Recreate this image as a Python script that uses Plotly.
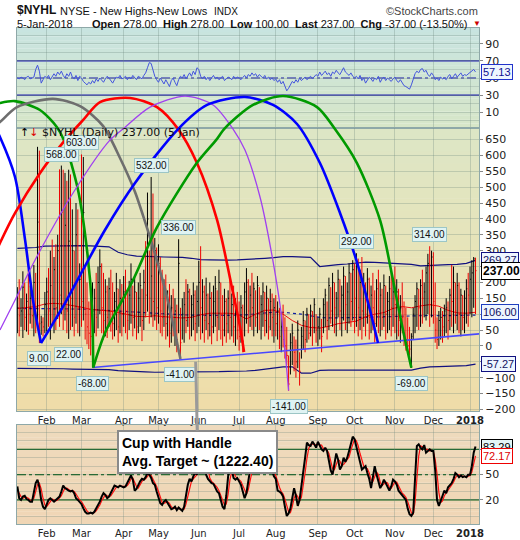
import pandas as pd
import plotly.graph_objects as go

# ---------------- data ----------------
HOLIDAYS = ["2017-01-16", "2017-02-20", "2017-04-14", "2017-05-29", "2017-07-04",
            "2017-09-04", "2017-11-23", "2017-12-25", "2018-01-01"]
trading_days = [d for d in pd.bdate_range("2017-01-09", "2018-01-05")
                if d.strftime("%Y-%m-%d") not in HOLIDAYS]

nyhl_high = (
    [185, 210, 150, 235, 200, 165, 240, 190, 175, 255, 230, 627, 615, 95, 90, 170] +
    [215, 245, 300, 335, 280, 320, 350, 556, 568, 555, 545, 520, 555, 540, 430, 300, 450, 430, 260] +
    [603, 595, 250, 200, 140, 160, 200, 180, 230, 250, 304, 260, 230, 210, 190, 215, 240, 200, 170, 230, 180, 210, 195] +
    [220, 240, 175, 205, 260, 190, 215, 170, 200, 230, 180, 240, 330, 483, 300, 532, 480, 340, 310] +
    [320, 280, 240, 210, 225, 175, 195, 160, 180, 150, 130, 336, 120, 150, 170, 210, 195, 180, 160, 200, 175, 190] +
    [268, 314, 210, 190, 215, 165, 200, 170, 190, 220, 175, 240, 200, 160, 180, 150, 175, 210, 165, 190, 150, 170] +
    [140, 160, 130, 200, 245, 210, 190, 230, 200, 175, 220, 185, 160, 200, 170, 190, 150, 180, 165, 150] +
    [160, 140, 120, 100, 130, 90, 60, -30, 40, 70, 30, 20, 80, -20, 60, 110, 80, 120, 100, 130, 110, 150, 100] +
    [90, 120, 85, 150, 180, 140, 215, 185, 230, 200, 170, 240, 210, 190, 250, 220, 200, 260, 230, 270] +
    [260, 292, 275, 240, 280, 230, 200, 245, 215, 190, 230, 175, 210, 240, 200, 180, 225, 190, 170, 220, 240, 200] +
    [250, 210, 180, 160, 200, 140, 120, 90, 60, 40, 120, 160, 200, 180, 210, 240, 200, 250, 290, 314, 300] +
    [295, 200, 90, 110, 120, 110, 130, 150, 140, 180, 255, 250, 200, 230, 200, 180, 160, 175, 210, 230] +
    [250, 270, 280, 278]
)
nyhl_low = (
    [40, 30, 60, 25, 50, 45, 35, 70, 55, 30, 40, 60, 9, 35, 30, 40] +
    [45, 60, 20, 70, 40, 50, 85, 60, 100, 50, 80, 40, 22, 50, 60, 30, 70, 40, 30] +
    [60, 80, 20, 5, -10, -30, -68, 40, 30, 55, 100, 40, 20, 30, 25, 60, 45, 20, 30, 50, 10, 40, 30] +
    [60, 40, 20, 50, 70, 30, 55, 20, 40, 60, 15, 50, 90, 108, 70, 90, 60, 80, 50] +
    [70, 40, 30, 60, 20, 30, -5, 10, 30, 0, -20, 40, -41, 20, 10, 40, 60, 20, 30, 50, 15, 40] +
    [60, 20, 40, 10, 50, 20, 30, 5, 40, 60, 15, 50, 20, 0, 30, 10, 40, 20, 30, 10, 0, 20] +
    [-15, 10, -20, 30, 70, 40, 60, 50, 30, 60, 40, 50, 20, 60, 30, 40, 20, 50, 30, 10] +
    [30, 20, -10, -20, -5, -40, -60, -141, -90, -60, -80, -100, -70, -125, -40, -10, -20, 10, 20, 30, 0, 40, 10] +
    [0, 20, -20, 40, 60, 20, 50, 70, 60, 40, 30, 90, 50, 30, 80, 50, 40, 70, 60, 80] +
    [40, 60, 30, 50, 20, 60, 30, 70, 20, 40, 50, 10, 60, 40, 30, 50, 60, 20, 40, 50, 30, 60] +
    [40, 20, 30, 10, 40, 0, -15, -20, -30, -69, 20, 40, 60, 50, 60, 70, 90, 80, 100, 60, 90] +
    [70, 10, -10, 0, 20, 10, 30, 40, 20, 50, 60, 40, 70, 50, 40, 30, 50, 40, 70, 60] +
    [100, 90, 120, 100]
)
nyhl_close = (
    [120, 95, 110, 185, 90, 140, 100, 150, 95, 200, 120, 390, 70, 75, 60, 130] +
    [170, 110, 190, 150, 240, 120, 300, 160, 420, 130, 380, 110, 330, 150, 300, 90, 350, 120, 210] +
    [140, 420, 100, 60, 40, 30, 110, 150, 90, 200, 250, 120, 80, 170, 90, 180, 110, 70, 140, 180, 60, 150, 100] +
    [170, 110, 80, 160, 210, 90, 170, 60, 150, 190, 80, 200, 160, 400, 150, 220, 140, 300, 120] +
    [260, 110, 90, 180, 70, 140, 40, 120, 60, 110, 20, 260, 10, 100, 130, 80, 170, 90, 130, 160, 70, 140] +
    [200, 120, 170, 80, 160, 70, 150, 60, 140, 180, 90, 200, 100, 50, 140, 70, 150, 90, 130, 60, 100, 50] +
    [30, 120, 15, 170, 200, 110, 160, 120, 180, 90, 190, 100, 130, 170, 80, 150, 60, 140, 90, 120] +
    [70, 110, 30, 60, 20, 0, -30, -120, 10, 40, -20, -50, 50, -80, 30, 80, 20, 100, 40, 110, 60, 130, 50] +
    [60, 100, 30, 130, 160, 80, 190, 110, 200, 120, 150, 210, 110, 160, 220, 130, 170, 230, 140, 240] +
    [150, 250, 120, 200, 110, 190, 100, 210, 90, 160, 120, 70, 180, 110, 160, 90, 190, 100, 140, 180, 120, 170] +
    [130, 170, 80, 120, 90, 40, 20, 0, -10, 30, 100, 140, 180, 120, 190, 150, 170, 230, 260, 130, 280] +
    [140, 50, 20, 80, 90, 60, 110, 120, 80, 160, 140, 200, 110, 190, 100, 160, 90, 150, 180, 160] +
    [210, 230, 274, 237]
)

rsi = (
    [50, 49, 51, 50, 48, 51, 52, 49, 50, 51] + [60, 65, 58, 44, 48, 52] +
    [50, 53, 48, 51, 55, 52, 57, 54, 58, 53, 50, 55, 52, 57, 51, 49, 53, 47, 52] +
    [50, 46, 44, 42, 45, 43, 47, 44, 49, 46, 50, 48, 45] +
    [49, 52, 50, 47, 44, 48, 51, 50, 53, 49, 50, 52, 48, 51, 49, 53, 50, 48, 52, 50, 49, 53, 56, 62] +
    [68, 67, 60, 52] +
    [48, 45, 50, 46, 43, 48, 44, 40, 47, 50, 45, 41, 48, 52, 50, 54, 49] +
    [53, 56, 52, 58, 54, 62, 60, 52] +
    [49, 52, 48, 51, 47, 50, 53, 49, 51, 48, 50, 52, 47, 49, 51, 50, 48, 52, 49, 51, 50, 48, 51, 53, 50] +
    [54, 52, 56, 53, 55, 51, 54, 52, 50, 53, 49, 51, 48, 50] +
    [47, 49, 45, 48, 43, 46, 40, 35, 38, 42] +
    [46, 44, 48, 45, 50, 47, 49, 51, 48, 50, 52, 49, 51] +
    [54, 52, 57, 53, 55, 58, 54, 56, 52, 57, 55, 59, 56, 54, 58, 62, 57, 55, 53, 56, 52] +
    [50, 52, 49, 53, 47, 50, 44, 48, 51, 49, 46, 50, 48, 52, 45, 49, 51, 47, 50, 48, 46, 49, 51, 47, 45, 48] +
    [44, 41, 40, 38, 37, 42, 48] +
    [55, 58, 56, 60, 61, 57, 59, 54, 52, 56, 53] +
    [48, 50, 47, 51, 49, 50, 48, 52, 54, 49] +
    [52, 55, 51, 53, 56, 52, 54, 53, 55, 57, 59, 60, 57.13]
)

stoch_k = (
    [36, 22, 20, 24, 25, 21, 20, 18, 18, 30, 40, 44, 35, 20, 12, 9] +
    [15, 20, 22, 20, 18, 20, 22, 24, 30, 37, 34, 32, 31, 30, 31, 28, 22, 20, 18] +
    [15, 10, 6, 4, 4, 5, 4, 6, 10, 15, 18, 24, 28, 26, 22, 24, 28, 32, 37, 36, 35, 37, 36] +
    [35, 36, 40, 45, 49, 44, 31, 33, 38, 42, 45, 44, 47, 52, 50, 46, 40, 38, 30] +
    [22, 16, 14, 18, 20, 16, 12, 9, 10, 12, 8, 11, 9, 7, 12, 25, 38, 45, 42, 48, 52, 50] +
    [60, 80, 88, 75, 50, 45, 42, 40, 39, 35, 30, 28, 20, 12, 9, 25, 48, 60, 55, 46, 44, 46] +
    [42, 38, 30, 22, 28, 45, 56, 66, 75, 82, 85, 80, 72, 78, 84, 76, 68, 60, 55, 48] +
    [45, 31, 30, 28, 24, 12, 1, 4, 10, 22, 34, 25, 13, 20, 35, 50, 70, 88, 85, 84, 89, 86, 82] +
    [89, 85, 80, 78, 82, 78, 65, 55, 50, 62, 75, 68, 56, 60, 70, 65, 70, 78, 88, 95] +
    [92, 84, 76, 65, 56, 58, 60, 52, 45, 34, 48, 60, 50, 40, 34, 38, 44, 40, 35, 31, 36, 44] +
    [42, 38, 31, 28, 26, 23, 20, 10, 3, 1, 5, 45, 84, 86, 82, 80, 85, 76, 78, 80, 78] +
    [78, 55, 20, 13, 18, 25, 31, 28, 35, 38, 40, 45, 52, 50, 47, 49, 47, 48, 47, 50] +
    [50, 60, 76, 83.29]
)
stoch_d = (
    [32, 28, 24, 22, 23, 23, 22, 20, 19, 22, 30, 38, 40, 33, 22, 14] +
    [12, 15, 19, 21, 20, 19, 20, 22, 25, 30, 34, 34, 32, 31, 31, 30, 27, 23, 20] +
    [18, 14, 10, 7, 5, 4, 4, 5, 7, 10, 14, 19, 23, 26, 25, 24, 25, 28, 32, 35, 36, 36, 36] +
    [36, 36, 37, 40, 45, 46, 41, 36, 34, 38, 42, 44, 45, 48, 50, 49, 45, 41, 36] +
    [30, 23, 17, 16, 17, 18, 16, 12, 10, 10, 10, 10, 9, 9, 9, 15, 25, 36, 42, 45, 47, 50] +
    [54, 64, 76, 81, 71, 57, 46, 42, 40, 38, 35, 31, 26, 20, 14, 15, 27, 44, 54, 54, 48, 45] +
    [44, 42, 37, 30, 27, 32, 43, 56, 66, 74, 81, 82, 79, 77, 78, 79, 76, 68, 61, 54] +
    [49, 41, 35, 30, 27, 21, 12, 6, 5, 12, 22, 27, 24, 19, 23, 35, 52, 69, 81, 86, 86, 86, 85] +
    [86, 85, 85, 81, 80, 79, 75, 66, 57, 56, 62, 68, 66, 61, 62, 65, 68, 71, 79, 87] +
    [92, 90, 84, 75, 66, 60, 58, 57, 52, 44, 42, 47, 53, 50, 41, 37, 39, 41, 40, 35, 34, 37] +
    [41, 41, 37, 32, 28, 26, 23, 18, 11, 5, 3, 17, 45, 72, 84, 83, 82, 80, 80, 78, 79] +
    [77, 68, 51, 29, 17, 19, 25, 28, 31, 34, 38, 41, 46, 49, 50, 49, 48, 48, 47, 48] +
    [49, 53, 62, 72.17]
)

# smoother overlays, read every 5 trading days
smooth_idx = list(range(0, 251, 5))
ma_red = [118, 120, 124, 132, 134, 132, 128, 122, 115, 113, 110, 105, 100, 93, 92, 95, 92, 90, 88, 90,
          98, 103, 104, 103, 100, 85, 100, 112, 113, 100, 80, 65, 58, 56, 62, 70, 74, 78, 92, 100,
          105, 118, 124, 120, 126, 130, 125, 112, 104, 103, 106]
ma_blue = [118, 118, 117, 117, 116, 116, 116, 116, 115, 114, 112, 110, 108, 106, 104, 103, 101, 100, 98, 97,
           96, 96, 96, 96, 96, 98, 101, 104, 106, 106, 104, 100, 95, 90, 88, 88, 88, 89, 90, 91,
           92, 93, 94, 95, 96, 96, 95, 95, 96, 96, 97]
band_upper = [307, 308, 310, 314, 315, 316, 316, 316, 315, 314, 312, 295, 287, 283, 281, 281, 280, 280, 279, 276,
              272, 271, 270, 270, 271, 272, 275, 276, 278, 281, 281, 280, 279, 250, 254, 256, 258, 262, 264, 263,
              262, 261, 259, 257, 252, 254, 255, 256, 257, 260, 269.27]
band_lower = [-71, -71, -70, -71, -72, -72, -73, -73, -74, -74, -75, -78, -80, -82, -82, -83, -83, -82, -82, -81,
              -81, -81, -81, -80, -80, -79, -77, -74, -71, -66, -66, -86, -86, -77, -76, -76, -76, -75, -75, -75,
              -74, -75, -76, -76, -70, -66, -65, -64, -63, -62, -57.27]

trend_idx = [41, 252]
trend_val = [-68, 38]

# labelled extremes (trading-day index, value)
peak_idx = [24, 35, 73, 88, 185, 225]
peak_val = [568, 603, 532, 336, 292, 314]
trough_idx = [12, 28, 41, 89, 148, 215]
trough_val = [9, 22, -68, -41, -141, -69]

# cycle arcs drawn on the chart (trading-day index, NYHL value)
arc_blue1_x = [-14.9, -9.5, -1.3, 4.2, 8.5, 12.9]
arc_blue1_y = [718, 658, 532, 334, 145, 9]
arc_green1_x = [-14.9, -9.5, -1.3, 12.3, 21.6, 25.4, 33.1, 38.0, 40.7, 41.4]
arc_green1_y = [755, 765, 771, 743, 689, 648, 491, 302, 122, -68]
arc_gray_x = [-14.9, -9.5, -0.2, 19.4, 34.2, 46.7, 56.0, 64.2, 68.5, 74.0, 81.1, 89.0]
arc_gray_y = [680, 705, 752, 778, 755, 693, 592, 485, 412, 311, 167, -41]
arc_red_x = [-14.9, -9.5, -1.3, 12.3, 26.0, 35.8, 45.1, 61.5, 76.2, 87.7, 98.0, 109.0, 117.7, 121.5, 123.7]
arc_red_y = [255, 324, 418, 544, 648, 711, 768, 781, 752, 683, 576, 396, 167, 60, -19]
arc_purple_x = [-9.5, -1.3, 9.6, 31.4, 50.5, 57.6, 72.4, 91.5, 106.8, 117.7, 124.2, 132.4, 138.4, 143.9, 148.0]
arc_purple_y = [50, 144, 270, 491, 648, 683, 752, 787, 759, 683, 617, 469, 302, 104, -141]
arc_blue2_x = [12.9, 26.0, 32.5, 47.8, 64.2, 87.7, 103.5, 124.2, 139.5, 152.6, 165.1, 176.1, 185.3, 192.4, 196.8]
arc_blue2_y = [9, 135, 204, 365, 513, 683, 759, 784, 759, 699, 576, 418, 264, 113, 9]
arc_green2_x = [41.4, 47.8, 63.1, 76.2, 97.5, 108.4, 113.3, 128.6, 145.0, 163.5, 173.3, 185.3, 197.9, 205.0, 210.4, 215.0]
arc_green2_y = [-68, 41, 207, 374, 573, 648, 686, 759, 787, 752, 683, 576, 396, 207, 50, -69]

# ---------------- layout helpers ----------------
W, H = 520, 540
XL, XR = 17, 479


def px(x):
    return x / W


def py(y):
    return 1 - y / H


n = len(nyhl_close)
idx = list(range(n))
month_idx = [i for i in range(1, n) if trading_days[i].month != trading_days[i - 1].month]
month_lbl = [trading_days[i].strftime("%b") if trading_days[i].month != 1
             else "<b>%d</b>" % trading_days[i].year for i in month_idx]

X_RANGE = [-0.2, 251.9]
TICKF = dict(family="DejaVu Sans", size=11, color="#222222")
GRID = "rgba(110,135,125,0.30)"
BORDER = "#8ea8a8"

fig = go.Figure()

# ---- top panel: RSI ----
fig.add_trace(go.Scatter(x=idx, y=rsi, mode="lines", line=dict(color="#4455dd", width=1),
                         xaxis="x", yaxis="y", hoverinfo="skip"))

# ---- main panel ----
fig.add_trace(go.Scatter(x=smooth_idx, y=band_upper, mode="lines", line=dict(color="#101080", width=1.2),
                         xaxis="x2", yaxis="y2"))
fig.add_trace(go.Scatter(x=smooth_idx, y=band_lower, mode="lines", line=dict(color="#101080", width=1.2),
                         xaxis="x2", yaxis="y2"))
fig.add_trace(go.Scatter(x=smooth_idx, y=ma_blue, mode="lines", line=dict(color="#1020a0", width=1.2, dash="dot"),
                         xaxis="x2", yaxis="y2"))
fig.add_trace(go.Scatter(x=smooth_idx, y=ma_red, mode="lines", line=dict(color="#e81010", width=1),
                         xaxis="x2", yaxis="y2"))

xb, yb, xr, yr = [], [], [], []
for i in range(n):
    up = i == 0 or nyhl_close[i] >= nyhl_close[i - 1]
    xs, ys = (xb, yb) if up else (xr, yr)
    xs += [i, i, None, i, i + 0.55, None]
    ys += [nyhl_low[i], nyhl_high[i], None, nyhl_close[i], nyhl_close[i], None]
fig.add_trace(go.Scatter(x=xb, y=yb, mode="lines", line=dict(color="#000000", width=1),
                         xaxis="x2", yaxis="y2", connectgaps=False))
fig.add_trace(go.Scatter(x=xr, y=yr, mode="lines", line=dict(color="#ee0000", width=1),
                         xaxis="x2", yaxis="y2", connectgaps=False))
fig.add_trace(go.Scatter(x=trend_idx, y=trend_val, mode="lines", line=dict(color="#4848ff", width=1.6),
                         xaxis="x2", yaxis="y2"))

# ---- bottom panel: stochastics ----
fig.add_trace(go.Scatter(x=idx, y=stoch_d, mode="lines", line=dict(color="#ff1010", width=1.2),
                         xaxis="x3", yaxis="y3"))
fig.add_trace(go.Scatter(x=idx, y=stoch_k, mode="lines", line=dict(color="#000000", width=2),
                         xaxis="x3", yaxis="y3"))

# ---- arcs overlay ----
for ax_, ay_, col, wd in [(arc_blue1_x, arc_blue1_y, "#0000ff", 2.6),
                          (arc_green1_x, arc_green1_y, "#009a00", 2.6),
                          (arc_gray_x, arc_gray_y, "#6e6e6e", 2.6),
                          (arc_red_x, arc_red_y, "#ff0000", 2.6),
                          (arc_purple_x, arc_purple_y, "#a040f0", 1.3),
                          (arc_blue2_x, arc_blue2_y, "#0000ff", 2.6),
                          (arc_green2_x, arc_green2_y, "#009a00", 2.6)]:
    fig.add_trace(go.Scatter(x=ax_, y=ay_, mode="lines", line=dict(color=col, width=wd, shape="spline", smoothing=0.8),
                             xaxis="x4", yaxis="y4"))

# ---------------- axes ----------------
xbase = dict(domain=[px(XL), px(XR)], range=X_RANGE, tickmode="array", tickvals=month_idx,
             showgrid=True, gridcolor=GRID, gridwidth=1, zeroline=False, showline=True, mirror=True,
             linecolor=BORDER, linewidth=1, ticks="", tickfont=dict(family="DejaVu Sans", size=10, color="#222"))
fig.update_layout(
    xaxis=dict(xbase, anchor="y", showticklabels=False),
    xaxis2=dict(xbase, anchor="y2", ticktext=month_lbl, showticklabels=True),
    xaxis3=dict(xbase, anchor="y3", ticktext=month_lbl, showticklabels=True),
    xaxis4=dict(domain=[0, px(XR)], range=[-9.48, 251.9], visible=False, anchor="y4"),
    yaxis=dict(domain=[py(128), py(28)], range=[-8.4, 108.4], side="right", anchor="x",
               tickmode="array", tickvals=[10, 30, 50, 70, 90], showgrid=True, gridcolor=GRID,
               minor=dict(tickmode="array", tickvals=[0, 20, 40, 60, 80, 100], showgrid=True, gridcolor=GRID),
               zeroline=False, showline=True, mirror=True, linecolor=BORDER, ticks="outside", ticklen=3,
               tickcolor="#888", tickfont=TICKF),
    yaxis2=dict(domain=[py(411), py(128)], range=[-205, 686.3], side="right", anchor="x2",
                tickmode="linear", tick0=0, dtick=50, showgrid=True, gridcolor=GRID, zeroline=False,
                showline=True, mirror=True, linecolor=BORDER, ticks="outside", ticklen=3, tickcolor="#888",
                tickfont=TICKF),
    yaxis3=dict(domain=[py(524), py(425)], range=[-8.5, 108.8], side="right", anchor="x3",
                tickmode="array", tickvals=[20, 50, 80], showgrid=True, gridcolor=GRID,
                minor=dict(tickmode="array", tickvals=[0, 10, 30, 40, 60, 70, 90, 100], showgrid=True, gridcolor=GRID),
                zeroline=False, showline=True, mirror=True, linecolor=BORDER, ticks="outside", ticklen=3,
                tickcolor="#888", tickfont=TICKF),
    yaxis4=dict(domain=[py(411), py(28)], range=[-205, 1001.3], visible=False, anchor="x4"),
    width=W, height=H, margin=dict(l=0, r=0, t=0, b=0, autoexpand=False),
    paper_bgcolor="white", plot_bgcolor="rgba(0,0,0,0)", showlegend=False,
)


# ---------------- panel backgrounds (gradients) ----------------
def hx(c):
    return tuple(int(c[k:k + 2], 16) for k in (1, 3, 5))


def grad(stops, t):
    for (t0, c0), (t1, c1) in zip(stops, stops[1:]):
        if t0 <= t <= t1:
            f = (t - t0) / (t1 - t0)
            a, b = hx(c0), hx(c1)
            return "rgb(%d,%d,%d)" % tuple(round(a[k] + (b[k] - a[k]) * f) for k in range(3))
    return stops[-1][1]


def add_gradient(xr_, yr_, stops, nb=24):
    for k in range(nb):
        t0, t1 = k / nb, (k + 1) / nb
        fig.add_shape(type="rect", xref=xr_ + " domain", yref=yr_ + " domain", x0=0, x1=1, y0=t0,
                      y1=min(1.0, t1 + 0.002),
                      fillcolor=grad(stops, (t0 + t1) / 2), line_width=0, layer="below")


add_gradient("x", "y", [(0, "#d7e6c8"), (1, "#c8e4e0")])
add_gradient("x2", "y2", [(0, "#efdca8"), (0.45, "#eae3b6"), (1, "#dce6c6")])
add_gradient("x3", "y3", [(0, "#f0d6b5"), (1, "#eedabd")])

# indicator guide lines
for yv, dash in [(70, "solid"), (30, "solid"), (50, "dashdot")]:
    fig.add_shape(type="line", xref="x domain", yref="y", x0=0, x1=1, y0=yv, y1=yv,
                  line=dict(color="#1a1aa8", width=1.2, dash=dash), layer="below")
for yv, dash in [(80, "solid"), (20, "solid"), (50, "dashdot")]:
    fig.add_shape(type="line", xref="x3 domain", yref="y3", x0=0, x1=1, y0=yv, y1=yv,
                  line=dict(color="#0b5e1a", width=1.3, dash=dash), layer="below")

# ---------------- annotations ----------------
ann = []
LABEL_FONT = dict(family="Liberation Sans, Arial", size=10, color="#111")
for i, v in zip(peak_idx, peak_val):
    ann.append(dict(x=i, y=v, xref="x2", yref="y2", text="%.2f" % v, showarrow=False, yanchor="bottom",
                    yshift=4, font=LABEL_FONT, bgcolor="#dff3f3", bordercolor="#9cc6c6", borderwidth=1, borderpad=1))
for i, v in zip(trough_idx, trough_val):
    ann.append(dict(x=i, y=v, xref="x2", yref="y2", text="%.2f" % v, showarrow=False, yanchor="top",
                    yshift=-8, font=LABEL_FONT, bgcolor="#dff3f3", bordercolor="#9cc6c6", borderwidth=1, borderpad=1))


# value tags on the right
def tag(yref, val, text, border, color, bg="#eef6ff", bold=False, size=11):
    return dict(x=px(481), y=val, xref="paper", yref=yref, text=("<b>%s</b>" % text) if bold else text,
                showarrow=False, xanchor="left", yanchor="middle",
                font=dict(family="Liberation Sans, Arial", size=size, color=color), bgcolor=bg,
                bordercolor=border, borderwidth=1, borderpad=1)


ann += [
    tag("y", 57.13, "57.13", "#2233cc", "#101090"),
    tag("y2", 269.27, "269.27", "#101080", "#101060"),
    tag("y2", 237.0, "237.00", "#000000", "#000000", bg="#ffffff", bold=True, size=12),
    tag("y2", 106.0, "106.00", "#2040c0", "#101060"),
    tag("y2", -57.27, "-57.27", "#101080", "#101060"),
    tag("y3", 83.29, "83.29", "#000000", "#000000", bg="#e4f6f6"),
    tag("y3", 72.17, "72.17", "#ee0000", "#dd0000", bg="#ffffff"),
]

TF = "Liberation Sans, Arial"


def top_text(x, y, text, size=11, color="#111", xanchor="left", family=TF):
    return dict(x=px(x), y=py(y), xref="paper", yref="paper", text=text, showarrow=False,
                xanchor=xanchor, yanchor="middle", font=dict(family=family, size=size, color=color))


ann += [
    top_text(15, 10, "<b>$NYHL</b>", size=12),
    top_text(58, 11, "NYSE - New Highs-New Lows", size=11),
    top_text(212, 11, "INDX", size=10),
    top_text(480, 11, "©StockCharts.com", size=11, color="#444444", xanchor="right"),
    top_text(15, 24, "5-Jan-2018", size=11),
    top_text(470, 24, "<b>Open</b> 278.00&nbsp; <b>High</b> 278.00&nbsp; <b>Low</b> 100.00&nbsp; "
                      "<b>Last</b> 237.00&nbsp; <b>Chg</b> -37.00 (-13.50%)", size=11, xanchor="right"),
    top_text(471, 24, "▼", size=8, color="#cc0000"),
    top_text(18, 133, "<span style='color:#000'>↑</span><span style='color:#d00'>↓</span> $NYHL (Daily) 237.00 (5 Jan)",
             size=11, family="DejaVu Sans"),
]

# callout
ann.append(dict(x=97.3, y=-50, xref="x2", yref="y2", ax=2, ay=90, axref="pixel", ayref="pixel",
                text="<b>Cup with Handle<br>Avg. Target ~ (1222.40)</b>", align="left",
                font=dict(family=TF, size=14, color="#000"), bgcolor="#ffffff", bordercolor="#8a8a8a",
                borderwidth=2, borderpad=3, showarrow=True, arrowhead=0, arrowwidth=3, arrowcolor="#9a9a9a",
                standoff=0, startstandoff=0))

fig.update_layout(annotations=ann)
fig.write_html("out.html", config={"displayModeBar": False},
               post_script="document.body.style.margin='0px';document.body.style.padding='0px';"
                           "document.body.style.overflow='hidden';")
